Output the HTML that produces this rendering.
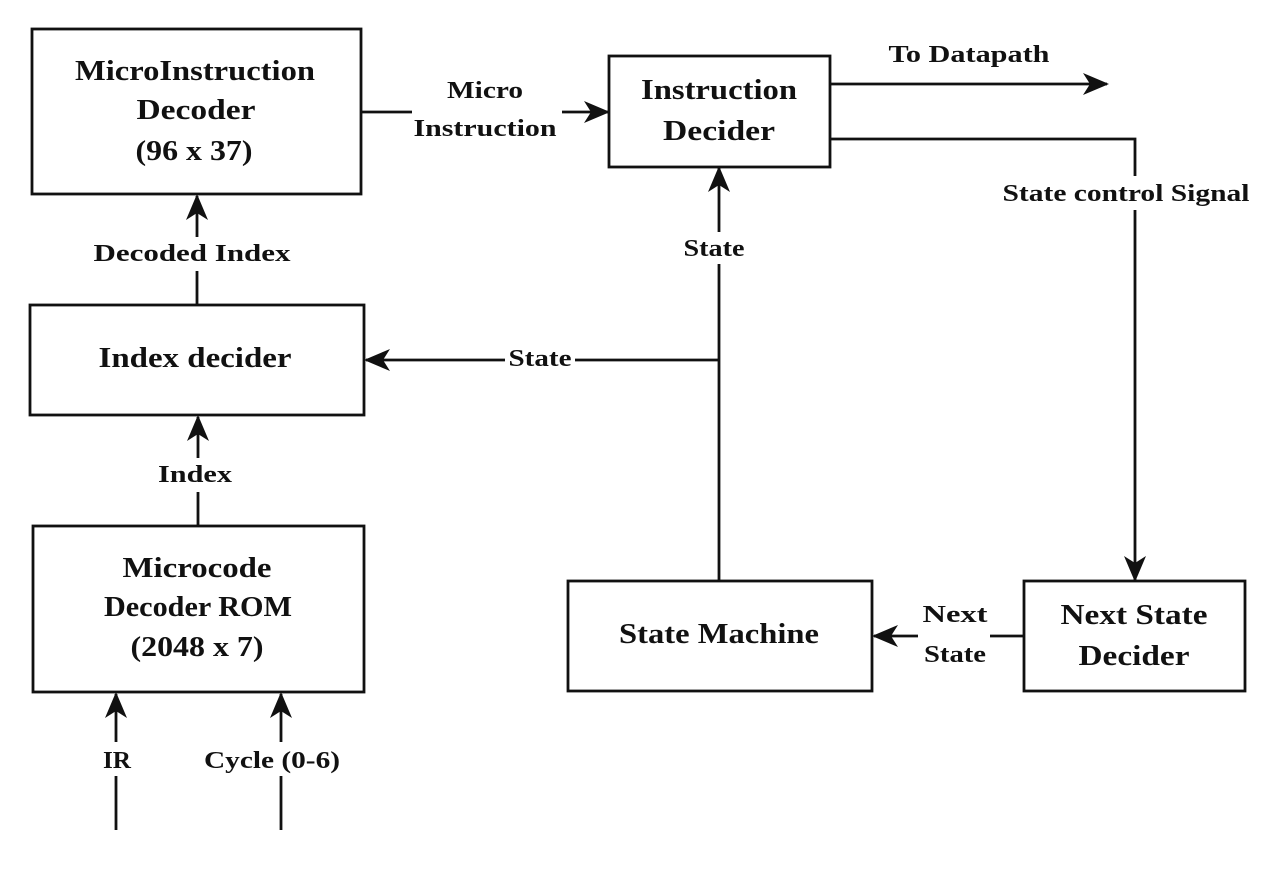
<!DOCTYPE html>
<html><head><meta charset="utf-8"><style>
html,body{margin:0;padding:0;background:#fff;width:1280px;height:881px;overflow:hidden}
svg text{font-family:"Liberation Serif",serif;font-weight:bold;fill:#111;text-anchor:middle}
.b{font-size:28px}.l{font-size:24px}
</style></head><body>
<svg width="1280" height="881" xmlns="http://www.w3.org/2000/svg">
<defs>
<marker id="A" markerWidth="26" markerHeight="22" refX="24" refY="11" orient="auto" markerUnits="userSpaceOnUse" viewBox="0 0 26 22"><path d="M0,0 L26,11 L0,22 L7,11 Z" fill="#111"/></marker></defs>
<g fill="none" stroke="#111" stroke-width="2.8">
<rect x="32" y="29" width="329" height="165"/>
<rect x="30" y="305" width="334" height="110"/>
<rect x="33" y="526" width="331" height="166"/>
<rect x="609" y="56" width="221" height="111"/>
<rect x="568" y="581" width="304" height="110"/>
<rect x="1024" y="581" width="221" height="110"/>
<g marker-end="url(#A)">
<path d="M362 112 H608"/>
<path d="M830 84 H1107"/>
<path d="M830 139 H1135 V580"/>
<path d="M1024 636 H874"/>
<path d="M719 581 V168"/>
<path d="M719 360 H366"/>
<path d="M197 305 V196"/>
<path d="M198 526 V417"/>
<path d="M116 830 V694"/>
<path d="M281 830 V694"/>
</g></g>
<g fill="#fff">
<rect x="412" y="72" width="150" height="72"/>
<rect x="1000" y="176" width="254" height="34"/>
<rect x="918" y="598" width="72" height="72"/>
<rect x="680" y="232" width="70" height="32"/>
<rect x="505" y="343" width="70" height="32"/>
<rect x="90" y="237" width="206" height="34"/>
<rect x="155" y="458" width="80" height="34"/>
<rect x="96" y="742" width="42" height="34"/>
<rect x="200" y="742" width="146" height="34"/>
</g>
<g lengthAdjust="spacingAndGlyphs">
<text class="b" x="195" y="80" textLength="240" lengthAdjust="spacingAndGlyphs">MicroInstruction</text>
<text class="b" x="196" y="119" textLength="119" lengthAdjust="spacingAndGlyphs">Decoder</text>
<text class="b" x="194" y="160" textLength="117" lengthAdjust="spacingAndGlyphs">(96 x 37)</text>
<text class="b" x="195" y="367" textLength="193" lengthAdjust="spacingAndGlyphs">Index decider</text>
<text class="b" x="197" y="577" textLength="149" lengthAdjust="spacingAndGlyphs">Microcode</text>
<text class="b" x="198" y="616" textLength="188" lengthAdjust="spacingAndGlyphs">Decoder ROM</text>
<text class="b" x="197" y="656" textLength="133" lengthAdjust="spacingAndGlyphs">(2048 x 7)</text>
<text class="b" x="719" y="99" textLength="156" lengthAdjust="spacingAndGlyphs">Instruction</text>
<text class="b" x="719" y="140" textLength="112" lengthAdjust="spacingAndGlyphs">Decider</text>
<text class="b" x="719" y="643" textLength="200" lengthAdjust="spacingAndGlyphs">State Machine</text>
<text class="b" x="1134" y="624" textLength="147" lengthAdjust="spacingAndGlyphs">Next State</text>
<text class="b" x="1134" y="665" textLength="111" lengthAdjust="spacingAndGlyphs">Decider</text>
<text class="l" x="485" y="98" textLength="76" lengthAdjust="spacingAndGlyphs">Micro</text>
<text class="l" x="485" y="136" textLength="143" lengthAdjust="spacingAndGlyphs">Instruction</text>
<text class="l" x="969" y="62" textLength="161" lengthAdjust="spacingAndGlyphs">To Datapath</text>
<text class="l" x="1126" y="201" textLength="247" lengthAdjust="spacingAndGlyphs">State control Signal</text>
<text class="l" x="955" y="622" textLength="65" lengthAdjust="spacingAndGlyphs">Next</text>
<text class="l" x="955" y="662" textLength="62" lengthAdjust="spacingAndGlyphs">State</text>
<text class="l" x="714" y="256" textLength="61" lengthAdjust="spacingAndGlyphs">State</text>
<text class="l" x="540" y="366" textLength="63" lengthAdjust="spacingAndGlyphs">State</text>
<text class="l" x="192" y="261" textLength="197" lengthAdjust="spacingAndGlyphs">Decoded Index</text>
<text class="l" x="195" y="482" textLength="74" lengthAdjust="spacingAndGlyphs">Index</text>
<text class="l" x="117" y="768" textLength="28" lengthAdjust="spacingAndGlyphs">IR</text>
<text class="l" x="272" y="768" textLength="136" lengthAdjust="spacingAndGlyphs">Cycle (0-6)</text>
</g>
</svg>
</body></html>
